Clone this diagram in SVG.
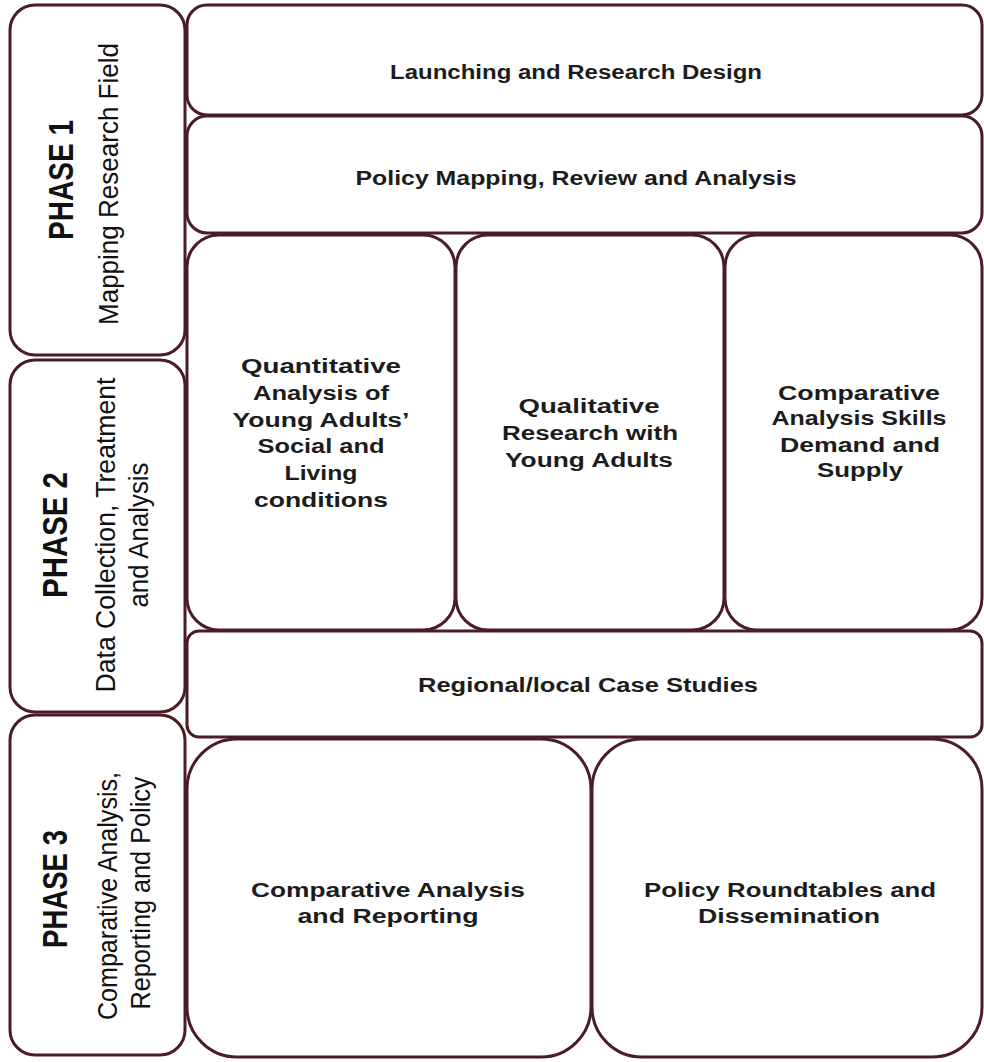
<svg xmlns="http://www.w3.org/2000/svg" width="984" height="1062" viewBox="0 0 984 1062">
<style>
.box{fill:#ffffff;stroke:#4a1c26;stroke-width:3}
.t{font-family:"Liberation Sans",Arial,sans-serif;font-weight:bold;font-size:20px;fill:#1c1c1c;text-anchor:middle}
.ph{font-family:"Liberation Sans",Arial,sans-serif;font-weight:bold;font-size:35px;fill:#111;text-anchor:middle}
.sub{font-family:"Liberation Sans",Arial,sans-serif;font-size:27px;fill:#111;text-anchor:middle}
</style>
<rect width="984" height="1062" fill="#ffffff"/>
<g id="phase1">
<rect class="box" x="10" y="5" width="175" height="350" rx="25"/>
<text class="ph" transform="translate(73,180) rotate(-90)" textLength="120" lengthAdjust="spacingAndGlyphs">PHASE 1</text>
<text class="sub" transform="translate(118,184) rotate(-90)" textLength="282" lengthAdjust="spacingAndGlyphs">Mapping Research Field</text>
</g>
<g id="phase2">
<rect class="box" x="10" y="360" width="175" height="352" rx="25"/>
<text class="ph" transform="translate(67,535) rotate(-90)" textLength="126" lengthAdjust="spacingAndGlyphs">PHASE 2</text>
<text class="sub" transform="translate(115,535) rotate(-90)" textLength="315" lengthAdjust="spacingAndGlyphs">Data Collection, Treatment</text>
<text class="sub" transform="translate(148,535) rotate(-90)" textLength="145" lengthAdjust="spacingAndGlyphs">and Analysis</text>
</g>
<g id="phase3">
<rect class="box" x="10" y="715" width="175" height="340" rx="25"/>
<text class="ph" transform="translate(67,889) rotate(-90)" textLength="118" lengthAdjust="spacingAndGlyphs">PHASE 3</text>
<text class="sub" transform="translate(117,896) rotate(-90)" textLength="248" lengthAdjust="spacingAndGlyphs">Comparative Analysis,</text>
<text class="sub" transform="translate(150,893) rotate(-90)" textLength="233" lengthAdjust="spacingAndGlyphs">Reporting and Policy</text>
</g>
<g id="launching">
<rect class="box" x="187" y="5" width="795" height="110" rx="20"/>
<text class="t" x="576" y="79" textLength="372" lengthAdjust="spacingAndGlyphs">Launching and Research Design</text>
</g>
<g id="policy-mapping">
<rect class="box" x="187" y="116" width="795" height="117" rx="20"/>
<text class="t" x="576" y="185" textLength="441" lengthAdjust="spacingAndGlyphs">Policy Mapping, Review and Analysis</text>
</g>
<g id="quantitative">
<rect class="box" x="187" y="235" width="268" height="395" rx="32"/>
<text class="t" x="321" y="373" textLength="160" lengthAdjust="spacingAndGlyphs">Quantitative</text>
<text class="t" x="321" y="400" textLength="136" lengthAdjust="spacingAndGlyphs">Analysis of</text>
<text class="t" x="321" y="427" textLength="177" lengthAdjust="spacingAndGlyphs">Young Adults’</text>
<text class="t" x="321" y="453" textLength="127" lengthAdjust="spacingAndGlyphs">Social and</text>
<text class="t" x="321" y="480" textLength="73" lengthAdjust="spacingAndGlyphs">Living</text>
<text class="t" x="321" y="507" textLength="134" lengthAdjust="spacingAndGlyphs">conditions</text>
</g>
<g id="qualitative">
<rect class="box" x="456" y="235" width="268" height="395" rx="32"/>
<text class="t" x="589" y="413" textLength="141" lengthAdjust="spacingAndGlyphs">Qualitative</text>
<text class="t" x="590" y="440" textLength="176" lengthAdjust="spacingAndGlyphs">Research with</text>
<text class="t" x="589" y="467" textLength="168" lengthAdjust="spacingAndGlyphs">Young Adults</text>
</g>
<g id="comparative-skills">
<rect class="box" x="725" y="235" width="257" height="395" rx="32"/>
<text class="t" x="859" y="400" textLength="162" lengthAdjust="spacingAndGlyphs">Comparative</text>
<text class="t" x="859" y="425" textLength="175" lengthAdjust="spacingAndGlyphs">Analysis Skills</text>
<text class="t" x="860" y="452" textLength="160" lengthAdjust="spacingAndGlyphs">Demand and</text>
<text class="t" x="860" y="477" textLength="86" lengthAdjust="spacingAndGlyphs">Supply</text>
</g>
<g id="regional">
<rect class="box" x="187" y="631" width="795" height="106" rx="12"/>
<text class="t" x="588" y="692" textLength="340" lengthAdjust="spacingAndGlyphs">Regional/local Case Studies</text>
</g>
<g id="comparative-reporting">
<rect class="box" x="187" y="739" width="404" height="318" rx="50"/>
<text class="t" x="388" y="897" textLength="274" lengthAdjust="spacingAndGlyphs">Comparative Analysis</text>
<text class="t" x="388" y="923" textLength="181" lengthAdjust="spacingAndGlyphs">and Reporting</text>
</g>
<g id="policy-roundtables">
<rect class="box" x="592" y="739" width="390" height="318" rx="50"/>
<text class="t" x="790" y="897" textLength="292" lengthAdjust="spacingAndGlyphs">Policy Roundtables and</text>
<text class="t" x="789" y="923" textLength="182" lengthAdjust="spacingAndGlyphs">Dissemination</text>
</g>
<g id="connectors"></g>
</svg>
